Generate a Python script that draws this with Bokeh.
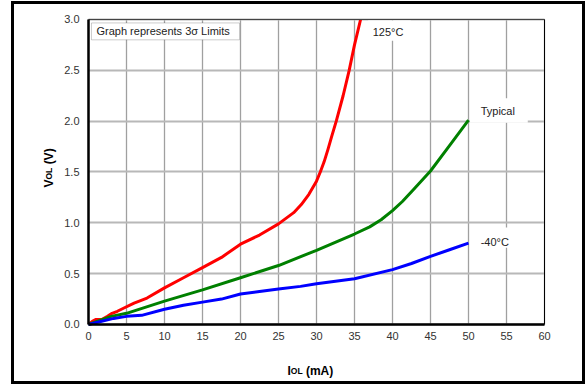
import math
from bokeh.plotting import figure
from bokeh.models import (Label, BoxAnnotation, SingleIntervalTicker,
                          PrintfTickFormatter, Range1d, LinearAxis)
from bokeh.embed import file_html
from bokeh.resources import INLINE

# ---- data ----
x_min, x_max, x_step = 0, 60, 5
y_min, y_max, y_step = 0, 3, 0.5

hot_x = [0, 0.5, 1, 1.8, 2.5, 3.1, 3.8, 4.6, 6, 7.7, 10, 12.5, 15, 17.5, 20,
         22.5, 25, 27, 28, 29, 30, 30.5, 31, 31.5, 32, 32.6, 33.5, 34.3, 35,
         35.8]
hot_y = [0, 0.03, 0.05, 0.05, 0.08, 0.11, 0.13, 0.16, 0.21, 0.26, 0.36, 0.46,
         0.56, 0.66, 0.79, 0.88, 0.99, 1.10, 1.18, 1.28, 1.41, 1.50, 1.60,
         1.72, 1.85, 2.0, 2.25, 2.5, 2.75, 3.0]

typ_x = [0, 1.5, 3, 5, 10, 15, 20, 25, 30, 35, 37, 38.5, 40, 41.3, 42.8, 45,
         47.5, 50]
typ_y = [0, 0.04, 0.08, 0.11, 0.23, 0.34, 0.46, 0.58, 0.73, 0.89, 0.96, 1.03,
         1.12, 1.21, 1.33, 1.51, 1.76, 2.01]

cold_x = [0, 1.6, 3.3, 5, 7, 10, 12.5, 15, 17.5, 20, 22.5, 25, 27.9, 30, 35,
          40, 42.5, 45, 47.5, 50]
cold_y = [0, 0.03, 0.06, 0.08, 0.09, 0.15, 0.19, 0.22, 0.25, 0.30, 0.325,
          0.35, 0.375, 0.40, 0.45, 0.54, 0.60, 0.67, 0.735, 0.80]

series_names = ["125°C", "Typical", "-40°C"]
note_text = "Graph represents 3σ Limits"

FONT = "Liberation Sans"

# canvas 574x383; plot box spans 0..60 / 0..3 inside a wider view
p = figure(width=574, height=383, output_backend="svg", toolbar_location=None,
           x_range=Range1d(-9.7368, 65.7895), y_range=Range1d(-0.6197, 3.1475),
           min_border=0, min_border_left=0, min_border_right=0,
           min_border_top=0, min_border_bottom=0)
p.title.visible = False
p.styles = {"border": "3px solid black", "margin-left": "11px",
            "margin-top": "1px"}
p.background_fill_color = "white"
p.border_fill_color = "white"
p.outline_line_color = None


def style_axis(ax, width, labels=True):
    ax.axis_line_color = "black"
    ax.axis_line_width = width
    ax.major_tick_line_color = None
    ax.minor_tick_line_color = None
    ax.major_tick_out = 0
    ax.major_tick_in = 0
    ax.minor_tick_out = 0
    ax.minor_tick_in = 0
    ax.major_label_text_font = FONT
    ax.major_label_text_font_size = "11px" if labels else "0px"
    ax.major_label_text_color = "#333333" if labels else None


xa, ya = p.xaxis[0], p.yaxis[0]
xa.fixed_location = y_min
ya.fixed_location = x_min
xa.bounds = (x_min, x_max)
ya.bounds = (y_min, y_max)
style_axis(xa, 2.5)
style_axis(ya, 2.5)
xa.ticker = SingleIntervalTicker(interval=x_step)
ya.ticker = SingleIntervalTicker(interval=y_step)
ya.formatter = PrintfTickFormatter(format="%.1f")
xa.major_label_standoff = 8
ya.major_label_standoff = 9

top_ax = LinearAxis(fixed_location=y_max, bounds=(x_min, x_max),
                    ticker=SingleIntervalTicker(interval=x_step))
right_ax = LinearAxis(fixed_location=x_max, bounds=(y_min, y_max),
                      ticker=SingleIntervalTicker(interval=y_step))
style_axis(top_ax, 1, labels=False)
style_axis(right_ax, 1, labels=False)
top_ax.axis_line_color = "#444444"
p.add_layout(top_ax, "above")
p.add_layout(right_ax, "right")

p.xgrid[0].bounds = (x_min, x_max)
p.xgrid[0].cross_bounds = (y_min, y_max)
p.ygrid[0].bounds = (y_min, y_max)
p.ygrid[0].cross_bounds = (x_min, x_max)
p.xgrid[0].grid_line_color = "#a0a0a0"
p.xgrid[0].grid_line_width = 1.3
p.ygrid[0].grid_line_color = "#b8b8b8"
p.ygrid[0].grid_line_width = 1.8

# white backgrounds behind labels
for l, r, b, t in [(36.8, 42.4, 2.79, 2.99), (50.2, 57.8, 1.985, 2.225),
                   (50.3, 57.8, 0.755, 0.955)]:
    p.add_layout(BoxAnnotation(left=l, right=r, bottom=b, top=t,
                               fill_color="white", fill_alpha=1,
                               line_color=None, level="glyph"))

for xs, ys, c in [(hot_x, hot_y, "#ff0000"), (typ_x, typ_y, "#008000"),
                  (cold_x, cold_y, "#0000ff")]:
    p.line(xs, ys, line_color=c, line_width=3, line_join="round")

# note box
p.add_layout(BoxAnnotation(left=0.39, right=19.87, bottom=2.80, top=2.966,
                           fill_color="white", fill_alpha=1,
                           line_color="#555555", line_width=1))
p.add_layout(Label(x=1.05, y=2.883, text=note_text, text_font=FONT,
                   text_font_size="11px", text_color="#222222",
                   text_baseline="middle", text_align="left"))

for name, lx, ly in zip(series_names, [37.4, 51.6, 51.6], [2.877, 2.097, 0.814]):
    p.add_layout(Label(x=lx, y=ly, text=name, text_font=FONT,
                       text_font_size="11px", text_color="#222222",
                       text_baseline="middle", text_align="left"))


# axis titles with small subscript
def lab(x, y, text, size, angle=0):
    p.add_layout(Label(x=x, y=y, text=text, text_font=FONT,
                       text_font_size=size, text_font_style="bold",
                       text_color="black", text_baseline="alphabetic",
                       text_align="left", angle=angle))


lab(26.18, -0.4525, "I", "12px")
lab(26.62, -0.4525, "OL", "8.5px")
lab(28.61, -0.4525, "(mA)", "12px")

lab(-5.263, 1.3475, "V", "12px", math.pi / 2)
lab(-5.263, 1.426, "OL", "8.5px", math.pi / 2)
lab(-5.263, 1.575, "(V)", "12px", math.pi / 2)

open("out.html", "w").write(file_html(p, INLINE))
